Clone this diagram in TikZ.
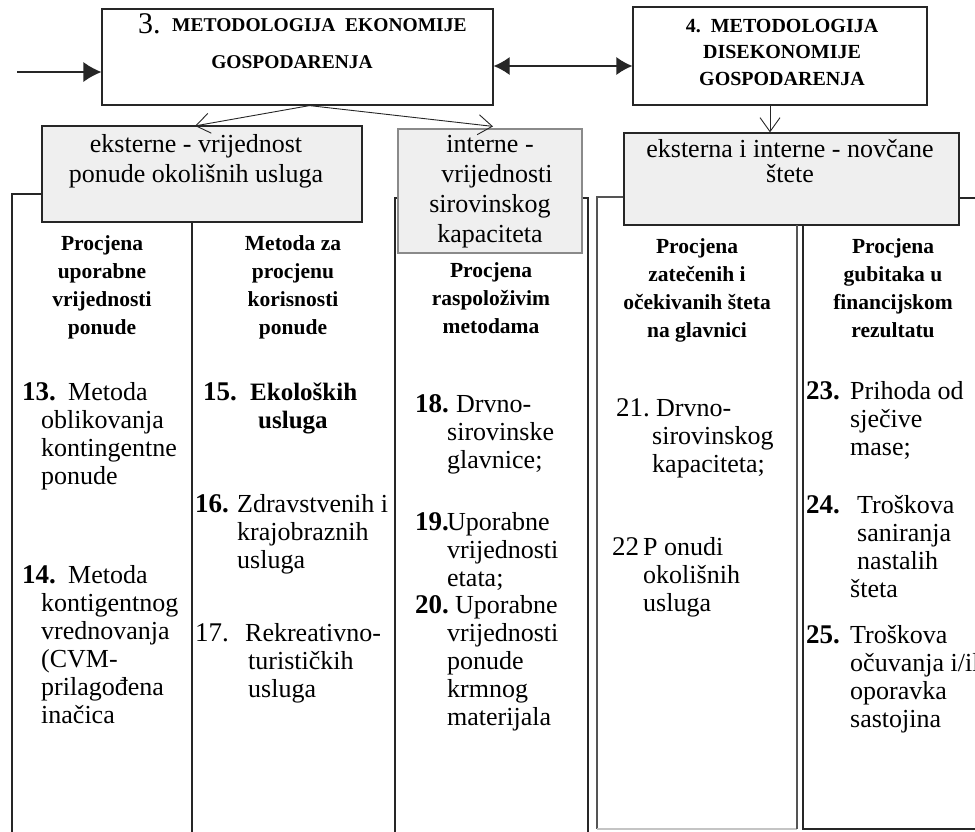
\documentclass[tikz,border=0pt]{standalone}
\usepackage{fontspec}
\setmainfont{Liberation Serif}
\usetikzlibrary{arrows.meta,calc}
\definecolor{boxgray}{HTML}{EFEFEF}
\definecolor{ink}{HTML}{262626}
\definecolor{midgray}{HTML}{8A8A8A}
\definecolor{softgray}{HTML}{555555}
\definecolor{palegray}{HTML}{C4C4C4}

\begin{document}
% Multi-line nodes are placed by the baseline of their last line.
\begin{tikzpicture}[x=1pt,y=-1pt,
  frame/.style={draw=ink,line width=1.2pt,inner sep=0pt,rectangle},
  graybox/.style={frame,fill=boxgray},
  rule/.style={draw=ink,line width=1.5pt},
  thinlink/.style={draw=ink,line width=0.9pt,-{Straight Barb[length=14pt,width=20pt,line width=0.9pt]}},
  head/.style={font=\fontsize{21.5}{28}\selectfont\bfseries,align=center,inner sep=0pt,anchor=base},
  body/.style={font=\fontsize{26}{28}\selectfont,align=left,inner sep=0pt,anchor=base west},
  grayt/.style={font=\fontsize{26}{29.7}\selectfont,align=center,inner sep=0pt,anchor=base},
  num/.style={font=\fontsize{27}{28}\selectfont\bfseries,inner sep=0pt,anchor=base west},
  numl/.style={font=\fontsize{27}{28}\selectfont,inner sep=0pt,anchor=base west},
  capt/.style={font=\fontsize{19.5}{26.5}\selectfont\bfseries,inner sep=0pt},
]
\useasboundingbox (0,0) rectangle (975,831);

% ---- top methodology boxes
\node[frame,minimum width=391pt,minimum height=96pt] (b3) at (297.5,57) {};
\node[frame,minimum width=294pt,minimum height=98pt] (b4) at (780,56) {};

\node[numl,font=\fontsize{30}{30}\selectfont] (t3n) at (138,33) {3.};
\node[capt,anchor=base west] (t3a) at (172,31) {METODOLOGIJA\ \ EKONOMIJE};
\node[capt,anchor=base] (t3b) at (292,68) {GOSPODARENJA};

\node[capt,font=\fontsize{20}{26.5}\selectfont\bfseries,anchor=base,align=center] (t4) at (782,85) {4.\ \ METODOLOGIJA\\DISEKONOMIJE\\GOSPODARENJA};

% ---- grey category boxes
\node[graybox,minimum width=320pt,minimum height=96pt] (ext) at (202,174) {};
\node[graybox,draw=midgray,minimum width=184pt,minimum height=124pt] (int) at (490,191) {};
\node[graybox,minimum width=335pt,minimum height=92pt] (eks) at (791.5,179) {};

\node[grayt,font=\fontsize{26}{30}\selectfont] (text) at (196,182) {eksterne - vrijednost\\ponude okolišnih usluga};
\node[grayt] (tint) at (490,242) {interne -\\\hspace*{14pt}vrijednosti\\sirovinskog\\kapaciteta};
\node[grayt,font=\fontsize{26}{25}\selectfont] (teks) at (790,182) {eksterna i interne - novčane\\štete};

% ---- connectors
\coordinate (inA) at (17,72);
\draw[ink,line width=1.2pt,-{Latex[length=18pt,width=20pt]}] (inA) -- (inA -| b3.west);
\coordinate (dA) at ([yshift=-9pt]b3.east);
\draw[ink,line width=1.2pt,{Latex[length=16pt,width=18pt]}-{Latex[length=16pt,width=18pt]}] (dA) -- (dA -| b4.west);
\draw[thinlink] ([xshift=12pt]b3.south) -- ([xshift=-7pt,yshift=-0.5pt]ext.north);
\draw[thinlink] ([xshift=12pt]b3.south) -- ([xshift=3pt,yshift=2pt]int.north);
\draw[thinlink] ([xshift=-10pt]b4.south) -- ([xshift=-21.5pt]eks.north);

% ---- column frames
\draw[rule] (ext.west |- 0,194) -- (12,194) -- (12,835);
\draw[rule] (192,222) -- (192,835);
\draw[rule] (int.west |- 0,198) -- (395,198) -- (395,835);
\draw[rule] (int.east |- 0,198) -- (588,198) -- (588,835);
\draw[rule,draw=softgray] (eks.west |- 0,197) -- (597,197) -- (597,829);
\draw[line width=1.5pt,draw=palegray] (597,829) -- (797,829);
\draw[rule,draw=softgray] (797,225) -- (797,829);
\draw[rule] (803,225) -- (803,829) -- (980,829);
\draw[rule] (eks.east |- 0,198) -- (980,198);

% ---- column headings
\node[head] (h1) at (102,334) {Procjena\\uporabne\\vrijednosti\\ponude};
\node[head] (h2) at (293,334) {Metoda za\\procjenu\\korisnosti\\ponude};
\node[head] (h3) at (491,333) {Procjena\\raspoloživim\\metodama};
\node[head] (h4) at (697,337) {Procjena\\zatečenih i\\očekivanih šteta\\na glavnici};
\node[head] (h5) at (893,337) {Procjena\\gubitaka u\\financijskom\\rezultatu};

% ---- column 1
\node[num] (n13) at (22,400) {13.};
\node[body] (i13) at (41,484) {\hspace*{27pt}Metoda\\oblikovanja\\kontingentne\\ponude};
\node[num] (n14) at (22,583) {14.};
\node[body] (i14) at (41,723) {\hspace*{27pt}Metoda\\kontigentnog\\vrednovanja\\(CVM-\\prilagođena\\inačica};

% ---- column 2
\node[num] (n15) at (203,400) {15.};
\node[body,font=\fontsize{25}{28}\selectfont\bfseries] (i15) at (250,428) {Ekoloških\\\hspace*{8pt}usluga};
\node[num] (n16) at (195,512) {16.};
\node[body] (i16) at (237,568) {Zdravstvenih i\\krajobraznih\\usluga};
\node[numl] (n17) at (195,641) {17.};
\node[body] (i17) at (245,697) {Rekreativno-\\\hspace*{3pt}turističkih\\\hspace*{3pt}usluga};

% ---- column 3
\node[num] (n18) at (415,412) {18.};
\node[body] (i18) at (447,468) {\hspace*{9pt}Drvno-\\sirovinske\\glavnice;};
\node[num] (n19) at (415,530) {19.};
\node[body] (i19) at (447,586) {Uporabne\\vrijednosti\\etata;};
\node[num] (n20) at (415,613) {20.};
\node[body] (i20) at (447,725) {\hspace*{8pt}Uporabne\\vrijednosti\\ponude\\krmnog\\materijala};

% ---- column 4
\node[numl] (n21) at (616,416) {21.};
\node[body] (i21) at (652,472) {\hspace*{4pt}Drvno-\\sirovinskog\\kapaciteta;};
\node[numl] (n22) at (612,555) {22};
\node[body] (i22) at (643,611) {P onudi\\okolišnih\\usluga};

% ---- column 5
\node[num] (n23) at (806,399) {23.};
\node[body] (i23) at (850,455) {Prihoda od\\sječive\\mase;};
\node[num] (n24) at (806,513) {24.};
\node[body] (i24) at (850,597) {\hspace*{7pt}Troškova\\\hspace*{7pt}saniranja\\\hspace*{7pt}nastalih\\šteta};
\node[num] (n25) at (806,643) {25.};
\node[body] (i25) at (850,727) {Troškova\\očuvanja i/il\\oporavka\\sastojina};
\end{tikzpicture}
\end{document}
